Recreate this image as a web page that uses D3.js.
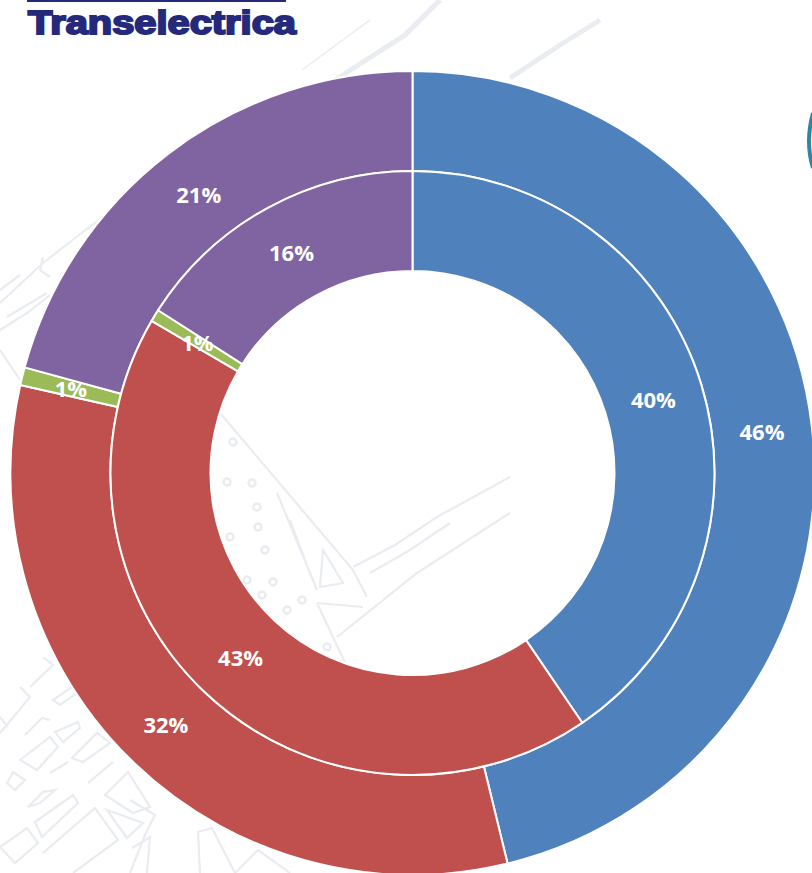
<!DOCTYPE html>
<html>
<head>
<meta charset="utf-8">
<style>
html,body{margin:0;padding:0;background:#fff;overflow:hidden}
svg{display:block}
text{font-family:"Open Sans","Noto Sans",sans-serif}
</style>
<script src="https://cdn.jsdelivr.net/npm/d3@7"></script>
</head>
<body>
<svg id="c" width="812" height="873"></svg>
<script>
const categories = ["Blue","Red","Green","Purple"];
const colors = ["#4f81bd","#c0504d","#9bbb59","#8064a2"];
const outerValues = [46.2,32.31,0.72,20.77];
const innerValues = [40.5,42.9,0.66,15.94];
const outerLabels = ["46%","32%","1%","21%"];
const innerLabels = ["40%","43%","1%","16%"];

const W=812,H=873,cx=412.5,cy=473;
const svg=d3.select("#c");
svg.append("rect").attr("width",W).attr("height",H).attr("fill","#fff");

// faint map decoration behind the chart
const mapLines=[
 "M220,413L353,570L367,597","M277,493L317,590","M317,603L347,667","M317,603L363,607",
 "M323,550L343,583L320,587Z","M290,520L305,560",
 "M353,567L395,545L437,517L510,477","M370,573L410,550L450,523","M337,637L417,573L510,513",
 "M20,760L50,737L58,747L37,770Z","M55,732L78,722L80,728L63,742Z","M72,758L97,733L110,743L83,762Z",
 "M7,783L13,772L25,780L15,790Z","M28,807L43,792L55,790L40,803Z","M35,822L73,795L78,803L42,837Z",
 "M105,795L128,772L150,807L133,813Z","M0,847L27,828L38,843L15,863Z","M43,853L95,808L118,840L73,873",
 "M107,810L143,823L127,838Z","M132,848L150,837L147,873",
 "M20,687L30,697L0,733","M43,657L53,665L30,687","M0,717L8,727","M53,700L72,687L77,693L60,705Z",
 "M25,735L42,718L50,720","M50,773L68,762","M88,783L113,762",
 "M0,303L43,263L83,232L103,217","M7,317L47,293","M0,330L27,313L50,295","M0,350L20,380","M43,257L40,270L50,277","M0,290L20,275",
 "M130,800L155,815L145,835L130,873","M200,873L198,832L212,828L235,873","M235,873L258,850L290,873"
];
const mapThick=["M335,80L405,35L440,0","M510,78L560,45L600,20"];
const mapThin=["M302,70L370,20"];
const mapBlobs=[[233,442],[227,482],[252,483],[257,507],[258,527],[230,537],[265,550],[247,580],[262,595],[273,582],[287,610],[302,600],[327,647]];
const mapG=svg.append("g").attr("fill","none").attr("stroke","#e9ecf0");
mapG.append("g").attr("stroke-width",2.2).selectAll("path").data(mapLines).join("path").attr("d",d=>d);
mapG.append("g").attr("stroke-width",5).selectAll("path").data(mapThick).join("path").attr("d",d=>d);
mapG.append("g").attr("stroke-width",1.5).selectAll("path").data(mapThin).join("path").attr("d",d=>d);
mapG.append("g").attr("stroke-width",2.5).selectAll("circle").data(mapBlobs).join("circle")
 .attr("cx",d=>d[0]).attr("cy",d=>d[1]).attr("r",3.5);

// teal arc at right edge
svg.append("path").attr("d","M813,113Q805,142 813,168").attr("fill","none").attr("stroke","#31859c").attr("stroke-width",4);

const pie=d3.pie().sort(null).value(d=>d);
function ring(values,labels,labelR,r0,r1){
  const arc=d3.arc().innerRadius(r0).outerRadius(r1);
  const arcs=pie(values);
  const g=svg.append("g").attr("transform",`translate(${cx},${cy})`);
  g.selectAll("path").data(arcs).join("path")
   .attr("d",arc).attr("fill",(d,i)=>colors[i]).attr("stroke","#fff").attr("stroke-width",2);
  g.selectAll("text").data(arcs).join("text")
   .attr("transform",d=>{
     const a=(d.startAngle+d.endAngle)/2;
     return `translate(${Math.sin(a)*labelR},${-Math.cos(a)*labelR})`;
   })
   .attr("text-anchor","middle").attr("dy","0.42em")
   .attr("fill","#fff").attr("font-size",22).attr("font-weight",700)
   .text((d,i)=>labels[i]);
}
ring(outerValues,outerLabels,352,302,402);
ring(innerValues,innerLabels,252,202,302);

// logo
svg.append("line").attr("x1",27).attr("x2",286).attr("y1",1).attr("y2",1).attr("stroke","#24297c").attr("stroke-width",2);
svg.append("text").attr("x",28).attr("y",34).attr("fill","#24297c").attr("font-size",33).attr("font-weight",700)
 .attr("textLength",268).attr("lengthAdjust","spacingAndGlyphs")
 .style("font-family","'Liberation Sans',sans-serif").style("stroke","#24297c").style("stroke-width",2).text("Transelectrica");
</script>
</body>
</html>
